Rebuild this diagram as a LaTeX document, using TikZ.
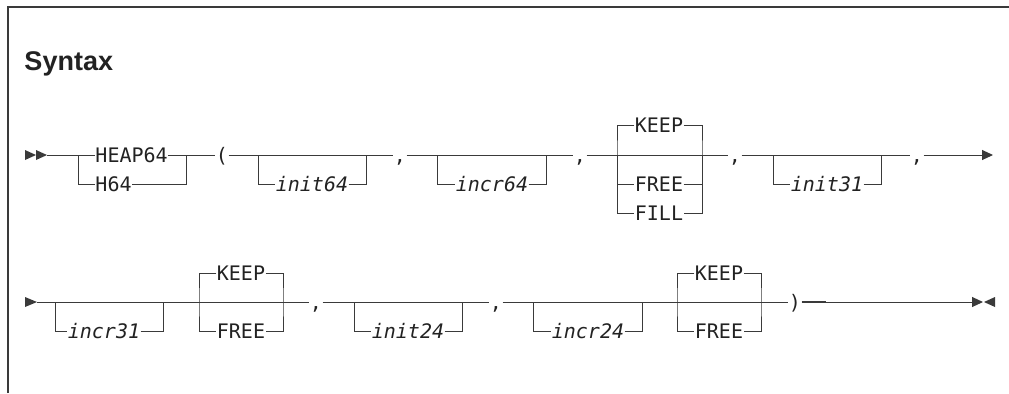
\documentclass[tikz,border=0pt]{standalone}
\usepackage{fontspec}
\setmainfont{Liberation Sans}
\setsansfont{Liberation Sans}
\setmonofont{DejaVu Sans Mono}
\usepackage{tikz}
\usepackage{xcolor}
\usetikzlibrary{arrows.meta}
\definecolor{rail}{HTML}{3A3A3A}
\definecolor{ink}{HTML}{222222}

\begin{document}
\begin{tikzpicture}[x=0.5pt, y=-0.5pt, line width=0.5pt, color=rail,
  every node/.style={inner sep=0pt, text height=9pt, text depth=1.7pt, font=\ttfamily, text=ink},
  var/.style={font=\ttfamily\itshape},
  endtip/.style={-{Triangle[length=5.5pt,width=5pt]}}]
\useasboundingbox (0,0) rectangle (1009,393);
\draw[line width=1pt] (8,393) -- (8,6.5) -- (1009,6.5);
\node[anchor=base west, font=\sffamily\bfseries\fontsize{13.5}{15}\selectfont] (title) at (24,70) {Syntax};

% first line
\fill (25,150) -- (36,155) -- (25,160) -- cycle;
\fill (36,150) -- (47,155) -- (36,160) -- cycle;
\coordinate (r1) at (47,155);
\coordinate (j1) at (78,155); \coordinate (j2) at (186,155);
\coordinate (a1) at (258,155); \coordinate (b1) at (366,155);
\coordinate (a2) at (437,155); \coordinate (b2) at (546,155);
\coordinate (a3) at (617,155); \coordinate (b3) at (702,155);
\coordinate (a4) at (773,155); \coordinate (b4) at (881,155);
\coordinate (end1) at (993,155);
\node[anchor=west] (heap) at (95,155) {HEAP64};
\node[anchor=west] (h64) at (95,184) {H64};
\node (lp) at (222,155) {(};
\node[var] (init64) at (312,184) {init64};
\node (c1) at (400,155) {,};
\node[var] (incr64) at (492,184) {incr64};
\node (c2) at (580,155) {,};
\node (keep1) at (659,125) {KEEP};
\node (free1) at (659,184) {FREE};
\node (fill1) at (659,213) {FILL};
\node (c3) at (735,155) {,};
\node[var] (init31) at (827,184) {init31};
\node (c4) at (917,155) {,};
\draw (r1) -- (heap.west); \draw (heap.east) -- (lp.west);
\draw (j1) |- (h64.west); \draw (h64.east) -| (j2);
\draw (lp.east) -- (c1.west);
\draw (a1) |- (init64.west); \draw (init64.east) -| (b1);
\draw (c1.east) -- (c2.west);
\draw (a2) |- (incr64.west); \draw (incr64.east) -| (b2);
\draw (c2.east) -- (c3.west);
\draw (keep1.west) -| (a3) |- (fill1.west); \draw (a3) |- (free1.west);
\draw (keep1.east) -| (b3) |- (fill1.east); \draw (free1.east) -| (b3);
\draw (c3.east) -- (c4.west);
\draw (a4) |- (init31.west); \draw (init31.east) -| (b4);
\draw[endtip] (c4.east) -- (end1);

% second line
\fill (25,297) -- (37,302) -- (25,307) -- cycle;
\coordinate (r2) at (37,302);
\coordinate (a5) at (55,302); \coordinate (b5) at (163,302);
\coordinate (a6) at (199,302); \coordinate (b6) at (283,302);
\coordinate (a7) at (354,302); \coordinate (b7) at (462,302);
\coordinate (a8) at (533,302); \coordinate (b8) at (642,302);
\coordinate (a9) at (677,302); \coordinate (b9) at (761,302);
\coordinate (end2) at (983,302);
\node[var] (incr31) at (104,331) {incr31};
\node (keep2) at (241,273) {KEEP};
\node (free2) at (241,331) {FREE};
\node (c5) at (316,302) {,};
\node[var] (init24) at (408,331) {init24};
\node (c6) at (496,302) {,};
\node[var] (incr24) at (588,331) {incr24};
\node (keep3) at (719,273) {KEEP};
\node (free3) at (719,331) {FREE};
\node (rp) at (795,302) {)};
\draw (r2) -- (c5.west);
\draw (a5) |- (incr31.west); \draw (incr31.east) -| (b5);
\draw (keep2.west) -| (a6) |- (free2.west); \draw (keep2.east) -| (b6) |- (free2.east);
\draw (c5.east) -- (c6.west);
\draw (a7) |- (init24.west); \draw (init24.east) -| (b7);
\draw (c6.east) -- (rp.west);
\draw (a8) |- (incr24.west); \draw (incr24.east) -| (b8);
\draw (keep3.west) -| (a9) |- (free3.west); \draw (keep3.east) -| (b9) |- (free3.east);
\draw[endtip] (rp.east) -- (end2);
\draw[line width=1pt] (rp.east) -- ++(24,0);
\fill (995,297) -- (984,302) -- (995,307) -- cycle;
\end{tikzpicture}
\end{document}
